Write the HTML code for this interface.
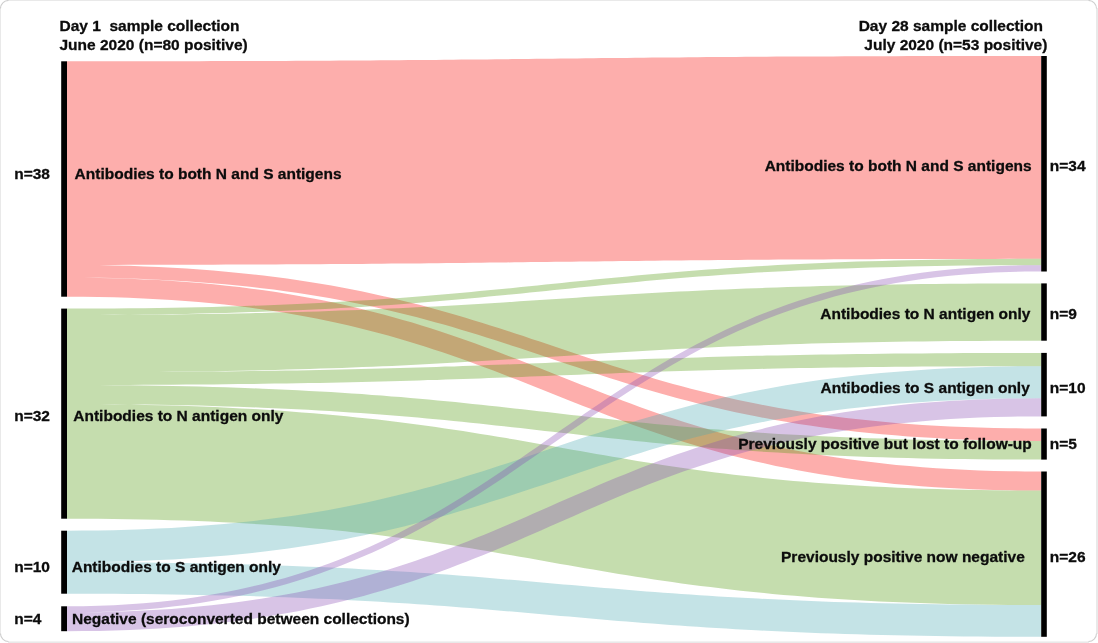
<!DOCTYPE html>
<html><head><meta charset="utf-8"><title>Sankey diagram</title>
<style>
html,body{margin:0;padding:0;background:#fff;}
body{width:1098px;height:643px;overflow:hidden;position:relative;}
svg{position:absolute;left:0;top:0;}
svg text{font-family:"Liberation Sans",sans-serif;font-weight:bold;font-size:15.5px;fill:#0c0c0c;stroke:#0c0c0c;stroke-width:0.3px;}
</style></head>
<body>
<svg width="1098" height="643" viewBox="0 0 1098 643">
<g fill="#e9e9e9">
<rect x="0" y="8" width="1" height="626"/>
<rect x="8" y="0" width="1081" height="1"/>
<rect x="1096" y="8" width="2" height="626"/>
<rect x="8" y="641.4" width="1081" height="1.6"/>
</g>
<g fill="none" stroke="#cfcfcf" stroke-width="1.1">
<path d="M0.5,8.5A8,8 0 0 1 8.5,0.5"/>
<path d="M1088.5,0.5A8,8 0 0 1 1096.5,8.5"/>
<path d="M1096.5,633.5A8,8 0 0 1 1088.5,641.5"/>
<path d="M8.5,641.5A8,8 0 0 1 0.5,633.5"/>
</g>
<g>
<path fill="rgb(250,12,6)" fill-opacity="0.333" d="M67.0,61.3L83.0,61.3L98.7,61.3L114.0,61.3L129.0,61.3L143.7,61.3L158.0,61.3L172.1,61.2L185.8,61.2L199.2,61.2L212.3,61.1L225.2,61.1L237.8,61.1L250.1,61.0L262.2,61.0L274.0,60.9L285.5,60.9L296.9,60.8L308.0,60.8L318.9,60.7L329.6,60.7L340.1,60.6L350.4,60.5L360.5,60.5L370.4,60.4L380.2,60.3L389.8,60.3L399.2,60.2L408.6,60.1L417.7,60.0L426.8,60.0L435.7,59.9L444.5,59.8L453.3,59.7L461.9,59.6L470.4,59.5L478.9,59.5L487.3,59.4L495.6,59.3L503.9,59.2L512.1,59.1L520.3,59.0L528.4,58.9L536.6,58.8L544.7,58.7L552.8,58.7L560.9,58.6L569.1,58.5L577.2,58.4L585.4,58.3L593.6,58.2L601.8,58.1L610.1,58.0L618.5,57.9L626.9,57.9L635.4,57.8L644.0,57.7L652.7,57.6L661.4,57.5L670.3,57.4L679.3,57.4L688.4,57.3L697.7,57.2L707.0,57.1L716.6,57.0L726.2,57.0L736.1,56.9L746.1,56.8L756.2,56.8L766.6,56.7L777.2,56.6L787.9,56.6L798.9,56.5L810.1,56.5L821.5,56.4L833.1,56.4L845.0,56.3L857.1,56.3L869.5,56.2L882.2,56.2L895.1,56.2L908.3,56.1L921.8,56.1L935.5,56.1L949.6,56.0L964.0,56.0L978.8,56.0L993.8,56.0L1009.2,56.0L1024.9,56.0L1041.0,56.0L1041.0,258.8L1025.0,258.8L1009.3,258.8L994.0,258.9L979.0,258.9L964.3,258.9L950.0,258.9L935.9,259.0L922.2,259.0L908.8,259.0L895.7,259.1L882.8,259.1L870.2,259.2L857.9,259.2L845.8,259.3L834.0,259.3L822.5,259.4L811.1,259.4L800.0,259.5L789.1,259.6L778.4,259.6L767.9,259.7L757.6,259.8L747.5,259.8L737.6,259.9L727.8,260.0L718.2,260.1L708.7,260.2L699.4,260.2L690.3,260.3L681.2,260.4L672.3,260.5L663.5,260.6L654.7,260.7L646.1,260.8L637.6,260.9L629.1,261.0L620.7,261.1L612.4,261.2L604.1,261.3L595.9,261.4L587.7,261.5L579.6,261.6L571.4,261.7L563.3,261.8L555.2,261.8L547.1,261.9L538.9,262.0L530.8,262.1L522.6,262.2L514.4,262.3L506.2,262.4L497.9,262.5L489.5,262.6L481.1,262.7L472.6,262.8L464.0,262.9L455.3,263.0L446.6,263.1L437.7,263.2L428.7,263.3L419.6,263.4L410.3,263.5L401.0,263.5L391.4,263.6L381.8,263.7L371.9,263.8L361.9,263.9L351.8,263.9L341.4,264.0L330.8,264.1L320.1,264.2L309.1,264.2L297.9,264.3L286.5,264.3L274.9,264.4L263.0,264.5L250.9,264.5L238.5,264.6L225.8,264.6L212.9,264.7L199.7,264.7L186.2,264.7L172.5,264.8L158.4,264.8L144.0,264.8L129.2,264.8L114.2,264.9L98.8,264.9L83.1,264.9L67.0,264.9ZM67.0,264.9L83.1,265.0L98.9,265.1L114.3,265.4L129.3,265.8L144.1,266.4L158.5,267.0L172.6,267.7L186.4,268.6L199.9,269.5L213.2,270.5L226.1,271.7L238.8,272.9L251.2,274.2L263.3,275.6L275.2,277.1L286.9,278.6L298.3,280.3L309.5,282.0L320.5,283.8L331.3,285.6L341.9,287.6L352.3,289.6L362.5,291.6L372.5,293.7L382.4,295.9L392.1,298.1L401.6,300.4L411.0,302.7L420.3,305.1L429.4,307.5L438.4,310.0L447.3,312.5L456.1,315.0L464.7,317.6L473.3,320.2L481.8,322.8L490.3,325.4L498.6,328.1L507.0,330.7L515.2,333.4L523.4,336.1L531.6,338.9L539.8,341.6L547.9,344.3L556.0,347.0L564.1,349.7L572.2,352.5L580.4,355.2L588.5,357.9L596.7,360.6L604.9,363.3L613.2,365.9L621.5,368.6L629.9,371.2L638.3,373.8L646.9,376.3L655.5,378.9L664.2,381.4L673.0,383.9L681.9,386.3L690.9,388.7L700.1,391.0L709.4,393.3L718.8,395.6L728.4,397.8L738.1,399.9L748.1,402.0L758.1,404.1L768.4,406.0L778.9,407.9L789.5,409.8L800.4,411.5L811.5,413.2L822.8,414.9L834.4,416.4L846.2,417.9L858.2,419.3L870.5,420.6L883.0,421.8L895.9,422.9L909.0,423.9L922.4,424.9L936.1,425.7L950.1,426.4L964.4,427.0L979.1,427.6L994.0,428.0L1009.3,428.3L1025.0,428.4L1041.0,428.5L1041.0,440.9L1024.9,440.9L1009.1,440.7L993.7,440.4L978.7,440.0L963.9,439.5L949.5,438.9L935.4,438.1L921.6,437.3L908.1,436.4L894.9,435.3L881.9,434.2L869.2,433.0L856.8,431.7L844.7,430.3L832.8,428.8L821.1,427.2L809.7,425.6L798.5,423.9L787.5,422.1L776.7,420.2L766.1,418.3L755.7,416.3L745.5,414.3L735.5,412.2L725.6,410.0L716.0,407.8L706.4,405.5L697.0,403.2L687.8,400.8L678.6,398.4L669.6,395.9L660.7,393.5L652.0,390.9L643.3,388.4L634.7,385.8L626.2,383.2L617.7,380.5L609.4,377.9L601.1,375.2L592.8,372.5L584.6,369.8L576.4,367.1L568.3,364.4L560.1,361.7L552.0,358.9L543.9,356.2L535.8,353.5L527.6,350.8L519.5,348.1L511.3,345.4L503.1,342.7L494.8,340.1L486.5,337.4L478.1,334.8L469.7,332.2L461.1,329.7L452.5,327.1L443.8,324.6L435.0,322.2L426.1,319.7L417.1,317.3L407.9,315.0L398.6,312.7L389.2,310.5L379.6,308.3L369.8,306.1L359.9,304.0L349.8,302.0L339.6,300.0L329.1,298.1L318.4,296.3L307.6,294.5L296.5,292.8L285.2,291.2L273.6,289.6L261.8,288.2L249.8,286.8L237.5,285.5L224.9,284.3L212.1,283.2L199.0,282.2L185.6,281.2L171.9,280.4L157.9,279.7L143.6,279.1L128.9,278.5L114.0,278.1L98.7,277.8L83.0,277.7L67.0,277.6ZM67.0,277.6L83.1,277.7L98.9,277.9L114.4,278.2L129.5,278.7L144.3,279.4L158.7,280.1L172.9,281.0L186.7,282.0L200.3,283.1L213.6,284.3L226.6,285.7L239.3,287.1L251.7,288.7L263.9,290.3L275.9,292.1L287.6,293.9L299.1,295.9L310.3,297.9L321.3,300.1L332.2,302.3L342.8,304.6L353.2,307.0L363.5,309.4L373.5,311.9L383.4,314.5L393.2,317.2L402.8,319.9L412.2,322.6L421.5,325.5L430.6,328.3L439.7,331.3L448.6,334.2L457.4,337.2L466.1,340.3L474.7,343.3L483.3,346.4L491.7,349.6L500.1,352.7L508.4,355.9L516.7,359.1L524.9,362.3L533.1,365.5L541.3,368.8L549.4,372.0L557.5,375.2L565.6,378.5L573.8,381.7L581.9,384.9L590.0,388.1L598.2,391.3L606.4,394.5L614.7,397.6L623.0,400.7L631.3,403.8L639.7,406.9L648.2,409.9L656.8,412.9L665.5,415.9L674.3,418.8L683.2,421.7L692.2,424.5L701.3,427.3L710.5,430.0L719.9,432.7L729.5,435.3L739.2,437.8L749.1,440.3L759.1,442.7L769.3,445.0L779.8,447.2L790.4,449.4L801.2,451.5L812.2,453.5L823.5,455.4L835.0,457.2L846.8,459.0L858.7,460.6L871.0,462.1L883.5,463.6L896.3,464.9L909.4,466.1L922.7,467.2L936.4,468.2L950.3,469.0L964.6,469.8L979.2,470.4L994.1,470.9L1009.4,471.2L1025.0,471.4L1041.0,471.5L1041.0,490.6L1024.9,490.5L1009.1,490.3L993.6,489.9L978.5,489.5L963.7,488.8L949.3,488.1L935.1,487.2L921.3,486.2L907.7,485.1L894.4,483.9L881.4,482.5L868.7,481.1L856.3,479.5L844.1,477.9L832.1,476.1L820.4,474.2L808.9,472.3L797.7,470.2L786.7,468.1L775.8,465.9L765.2,463.6L754.8,461.2L744.5,458.8L734.5,456.3L724.6,453.7L714.8,451.0L705.2,448.3L695.8,445.6L686.5,442.7L677.4,439.9L668.3,436.9L659.4,434.0L650.6,431.0L641.9,427.9L633.3,424.9L624.7,421.7L616.3,418.6L607.9,415.5L599.6,412.3L591.3,409.1L583.1,405.9L574.9,402.7L566.7,399.4L558.6,396.2L550.5,393.0L542.4,389.7L534.2,386.5L526.1,383.3L518.0,380.1L509.8,376.9L501.6,373.7L493.3,370.6L485.0,367.5L476.7,364.4L468.3,361.3L459.8,358.3L451.2,355.3L442.5,352.3L433.7,349.4L424.8,346.5L415.8,343.7L406.7,340.9L397.5,338.2L388.1,335.5L378.5,332.9L368.8,330.4L358.9,327.9L348.9,325.5L338.7,323.2L328.2,321.0L317.6,318.8L306.8,316.7L295.8,314.7L284.5,312.8L273.0,311.0L261.2,309.2L249.2,307.6L237.0,306.1L224.5,304.6L211.7,303.3L198.6,302.1L185.3,301.0L171.6,300.0L157.7,299.2L143.4,298.4L128.8,297.8L113.9,297.3L98.6,297.0L83.0,296.8L67.0,296.7Z"/>
<path fill="rgb(81,153,12)" fill-opacity="0.333" d="M67.0,308.6L83.0,308.6L98.7,308.5L114.1,308.4L129.1,308.3L143.8,308.2L158.1,308.0L172.2,307.7L185.9,307.5L199.4,307.2L212.6,306.9L225.4,306.6L238.0,306.2L250.4,305.8L262.5,305.4L274.3,304.9L285.9,304.4L297.3,303.9L308.4,303.4L319.3,302.9L330.0,302.3L340.5,301.7L350.9,301.1L361.0,300.5L371.0,299.9L380.8,299.2L390.4,298.5L399.9,297.9L409.2,297.2L418.4,296.4L427.5,295.7L436.4,295.0L445.3,294.2L454.0,293.4L462.7,292.7L471.2,291.9L479.7,291.1L488.1,290.3L496.4,289.5L504.7,288.7L512.9,287.9L521.1,287.0L529.3,286.2L537.4,285.4L545.6,284.6L553.7,283.7L561.8,282.9L569.9,282.1L578.1,281.2L586.2,280.4L594.4,279.6L602.7,278.8L611.0,278.0L619.3,277.2L627.7,276.4L636.2,275.6L644.8,274.8L653.4,274.0L662.2,273.2L671.0,272.5L680.0,271.7L689.1,271.0L698.3,270.3L707.7,269.6L717.2,268.9L726.8,268.2L736.6,267.6L746.6,266.9L756.7,266.3L767.1,265.7L777.6,265.1L788.4,264.5L799.3,264.0L810.5,263.5L821.8,263.0L833.4,262.5L845.3,262.1L857.4,261.6L869.8,261.2L882.4,260.9L895.3,260.5L908.5,260.2L921.9,259.9L935.7,259.7L949.8,259.5L964.1,259.3L978.8,259.1L993.9,259.0L1009.2,258.9L1024.9,258.8L1041.0,258.8L1041.0,265.2L1025.0,265.2L1009.3,265.2L993.9,265.3L978.9,265.4L964.2,265.6L949.9,265.8L935.8,266.0L922.1,266.3L908.6,266.6L895.4,266.9L882.6,267.2L870.0,267.6L857.6,268.0L845.5,268.4L833.7,268.8L822.1,269.3L810.7,269.8L799.6,270.3L788.7,270.9L778.0,271.4L767.5,272.0L757.1,272.6L747.0,273.3L737.0,273.9L727.2,274.5L717.6,275.2L708.1,275.9L698.8,276.6L689.6,277.3L680.5,278.1L671.6,278.8L662.7,279.6L654.0,280.3L645.3,281.1L636.8,281.9L628.3,282.7L619.9,283.5L611.6,284.3L603.3,285.1L595.1,285.9L586.9,286.7L578.7,287.6L570.6,288.4L562.4,289.2L554.3,290.0L546.2,290.9L538.1,291.7L529.9,292.5L521.8,293.4L513.6,294.2L505.3,295.0L497.0,295.8L488.7,296.6L480.3,297.4L471.8,298.2L463.2,299.0L454.6,299.8L445.8,300.5L437.0,301.3L428.0,302.0L418.9,302.8L409.7,303.5L400.3,304.2L390.8,304.9L381.2,305.6L371.4,306.2L361.4,306.9L351.3,307.5L340.9,308.1L330.4,308.7L319.6,309.2L308.7,309.8L297.5,310.3L286.2,310.8L274.6,311.3L262.7,311.7L250.6,312.1L238.2,312.5L225.6,312.9L212.7,313.3L199.5,313.6L186.1,313.9L172.3,314.1L158.2,314.3L143.9,314.5L129.2,314.7L114.1,314.8L98.8,314.9L83.1,314.9L67.0,315.0ZM67.0,315.0L83.0,315.0L98.7,314.9L114.0,314.9L129.0,314.8L143.6,314.7L157.9,314.6L171.9,314.4L185.6,314.3L199.1,314.1L212.2,313.9L225.0,313.7L237.6,313.4L249.9,313.2L261.9,312.9L273.7,312.6L285.3,312.3L296.6,312.0L307.7,311.7L318.6,311.4L329.2,311.0L339.7,310.6L350.0,310.3L360.1,309.9L370.0,309.5L379.7,309.0L389.3,308.6L398.8,308.2L408.1,307.7L417.2,307.3L426.3,306.8L435.2,306.4L444.0,305.9L452.7,305.4L461.3,304.9L469.8,304.4L478.3,303.9L486.6,303.4L495.0,302.9L503.2,302.4L511.4,301.9L519.6,301.3L527.8,300.8L535.9,300.3L544.0,299.8L552.1,299.2L560.3,298.7L568.4,298.2L576.5,297.7L584.7,297.1L592.9,296.6L601.2,296.1L609.5,295.6L617.9,295.1L626.3,294.6L634.8,294.1L643.4,293.6L652.1,293.1L660.9,292.6L669.8,292.1L678.8,291.6L687.9,291.2L697.2,290.7L706.5,290.2L716.1,289.8L725.8,289.4L735.6,289.0L745.7,288.6L755.9,288.2L766.2,287.8L776.8,287.4L787.6,287.0L798.6,286.7L809.8,286.4L821.2,286.0L832.9,285.7L844.8,285.5L856.9,285.2L869.3,284.9L882.0,284.7L894.9,284.5L908.1,284.3L921.6,284.1L935.4,283.9L949.5,283.8L964.0,283.7L978.7,283.6L993.8,283.5L1009.2,283.4L1024.9,283.4L1041.0,283.4L1041.0,340.7L1025.0,340.7L1009.3,340.7L994.0,340.8L979.0,340.9L964.4,341.0L950.1,341.1L936.1,341.2L922.4,341.4L908.9,341.6L895.8,341.8L883.0,342.0L870.4,342.2L858.1,342.5L846.1,342.7L834.3,343.0L822.7,343.3L811.4,343.6L800.3,344.0L789.4,344.3L778.8,344.7L768.3,345.0L758.0,345.4L747.9,345.8L738.0,346.2L728.3,346.6L718.7,347.1L709.2,347.5L699.9,347.9L690.8,348.4L681.7,348.8L672.8,349.3L664.0,349.8L655.3,350.3L646.7,350.8L638.2,351.3L629.7,351.8L621.4,352.3L613.0,352.8L604.8,353.3L596.6,353.8L588.4,354.3L580.2,354.8L572.1,355.4L564.0,355.9L555.9,356.4L547.7,356.9L539.6,357.5L531.5,358.0L523.3,358.5L515.1,359.0L506.8,359.6L498.5,360.1L490.1,360.6L481.7,361.1L473.2,361.6L464.6,362.1L455.9,362.6L447.1,363.1L438.2,363.6L429.2,364.0L420.1,364.5L410.8,365.0L401.5,365.4L391.9,365.9L382.2,366.3L372.4,366.7L362.3,367.1L352.1,367.5L341.8,367.9L331.2,368.3L320.4,368.6L309.4,369.0L298.2,369.3L286.8,369.6L275.1,369.9L263.2,370.2L251.1,370.5L238.7,370.7L226.0,371.0L213.1,371.2L199.9,371.4L186.4,371.6L172.6,371.7L158.5,371.9L144.0,372.0L129.3,372.1L114.2,372.2L98.8,372.2L83.1,372.3L67.0,372.3ZM67.0,372.3L83.0,372.3L98.7,372.2L114.1,372.2L129.1,372.1L143.8,372.1L158.2,372.0L172.2,371.9L186.0,371.8L199.4,371.7L212.6,371.6L225.5,371.4L238.1,371.3L250.4,371.1L262.5,371.0L274.3,370.8L285.9,370.6L297.3,370.4L308.4,370.2L319.4,370.0L330.1,369.8L340.6,369.6L350.9,369.3L361.1,369.1L371.0,368.8L380.8,368.6L390.4,368.3L399.9,368.1L409.3,367.8L418.5,367.5L427.5,367.2L436.5,366.9L445.3,366.6L454.1,366.4L462.7,366.1L471.3,365.7L479.7,365.4L488.1,365.1L496.5,364.8L504.8,364.5L513.0,364.2L521.2,363.9L529.4,363.6L537.5,363.2L545.6,362.9L553.7,362.6L561.9,362.3L570.0,361.9L578.1,361.6L586.3,361.3L594.5,361.0L602.7,360.7L611.0,360.4L619.4,360.0L627.8,359.7L636.3,359.4L644.8,359.1L653.5,358.8L662.2,358.5L671.1,358.2L680.1,357.9L689.1,357.7L698.4,357.4L707.7,357.1L717.2,356.8L726.8,356.6L736.7,356.3L746.6,356.1L756.8,355.8L767.1,355.6L777.7,355.4L788.4,355.2L799.3,354.9L810.5,354.7L821.9,354.5L833.5,354.4L845.3,354.2L857.4,354.0L869.8,353.9L882.4,353.7L895.3,353.6L908.5,353.5L921.9,353.4L935.7,353.3L949.8,353.2L964.1,353.1L978.8,353.0L993.9,353.0L1009.2,352.9L1024.9,352.9L1041.0,352.9L1041.0,366.2L1025.0,366.2L1009.3,366.2L993.9,366.3L978.9,366.3L964.2,366.4L949.8,366.4L935.8,366.5L922.0,366.6L908.6,366.7L895.4,366.8L882.6,367.0L869.9,367.1L857.6,367.2L845.5,367.4L833.7,367.6L822.1,367.7L810.7,367.9L799.6,368.1L788.6,368.3L777.9,368.5L767.4,368.8L757.1,369.0L747.0,369.2L737.0,369.5L727.2,369.7L717.6,370.0L708.1,370.2L698.7,370.5L689.5,370.8L680.5,371.0L671.5,371.3L662.7,371.6L653.9,371.9L645.3,372.2L636.7,372.5L628.3,372.8L619.9,373.1L611.5,373.4L603.2,373.7L595.0,374.0L586.8,374.3L578.6,374.7L570.5,375.0L562.4,375.3L554.3,375.6L546.1,375.9L538.0,376.2L529.9,376.5L521.7,376.9L513.5,377.2L505.3,377.5L497.0,377.8L488.6,378.1L480.2,378.4L471.7,378.7L463.2,379.0L454.5,379.3L445.8,379.6L436.9,379.9L427.9,380.1L418.9,380.4L409.6,380.7L400.3,381.0L390.8,381.2L381.1,381.5L371.3,381.7L361.4,382.0L351.2,382.2L340.9,382.4L330.3,382.7L319.6,382.9L308.7,383.1L297.5,383.3L286.1,383.5L274.5,383.6L262.7,383.8L250.6,384.0L238.2,384.1L225.6,384.2L212.7,384.4L199.5,384.5L186.1,384.6L172.3,384.7L158.2,384.8L143.9,384.8L129.2,384.9L114.1,384.9L98.8,385.0L83.1,385.0L67.0,385.0ZM67.0,385.0L83.1,385.0L98.8,385.1L114.2,385.2L129.2,385.3L144.0,385.5L158.4,385.7L172.4,386.0L186.2,386.3L199.7,386.6L212.9,386.9L225.8,387.3L238.5,387.7L250.8,388.2L263.0,388.7L274.8,389.2L286.5,389.7L297.9,390.3L309.1,390.9L320.0,391.5L330.8,392.1L341.3,392.8L351.7,393.4L361.9,394.1L371.9,394.9L381.7,395.6L391.4,396.4L400.9,397.1L410.3,397.9L419.5,398.7L428.6,399.6L437.6,400.4L446.5,401.2L455.2,402.1L463.9,403.0L472.5,403.9L481.0,404.8L489.4,405.7L497.7,406.6L506.0,407.5L514.3,408.4L522.5,409.3L530.7,410.2L538.8,411.2L547.0,412.1L555.1,413.0L563.2,414.0L571.3,414.9L579.4,415.8L587.6,416.7L595.8,417.7L604.0,418.6L612.3,419.5L620.6,420.4L629.0,421.3L637.5,422.2L646.0,423.1L654.6,423.9L663.4,424.8L672.2,425.6L681.1,426.5L690.2,427.3L699.4,428.1L708.7,428.9L718.1,429.6L727.7,430.4L737.5,431.1L747.5,431.8L757.6,432.5L767.9,433.2L778.4,433.9L789.1,434.5L800.0,435.1L811.1,435.7L822.4,436.3L834.0,436.8L845.8,437.3L857.9,437.8L870.2,438.2L882.8,438.6L895.6,439.0L908.8,439.4L922.2,439.7L935.9,440.0L950.0,440.2L964.3,440.4L979.0,440.6L994.0,440.8L1009.3,440.9L1025.0,440.9L1041.0,440.9L1041.0,459.6L1024.9,459.6L1009.2,459.5L993.8,459.4L978.8,459.3L964.1,459.1L949.7,458.9L935.6,458.7L921.8,458.4L908.3,458.1L895.1,457.7L882.2,457.3L869.5,456.9L857.2,456.5L845.0,456.0L833.2,455.5L821.5,455.0L810.1,454.4L798.9,453.8L788.0,453.2L777.2,452.6L766.7,451.9L756.3,451.3L746.1,450.6L736.1,449.9L726.3,449.1L716.6,448.4L707.1,447.6L697.7,446.8L688.5,446.0L679.4,445.2L670.4,444.4L661.5,443.5L652.8,442.7L644.1,441.8L635.5,440.9L627.0,440.0L618.6,439.1L610.3,438.2L602.0,437.3L593.7,436.4L585.5,435.5L577.3,434.6L569.2,433.6L561.0,432.7L552.9,431.8L544.8,430.9L536.7,429.9L528.5,429.0L520.4,428.1L512.2,427.2L504.0,426.3L495.7,425.4L487.4,424.5L479.0,423.6L470.5,422.7L462.0,421.8L453.4,421.0L444.6,420.1L435.8,419.3L426.9,418.4L417.8,417.6L408.6,416.8L399.3,416.0L389.9,415.3L380.3,414.5L370.5,413.8L360.5,413.1L350.4,412.4L340.1,411.7L329.6,411.1L318.9,410.4L308.0,409.8L296.9,409.3L285.6,408.7L274.0,408.2L262.2,407.7L250.1,407.2L237.8,406.8L225.2,406.4L212.4,406.0L199.2,405.6L185.8,405.3L172.1,405.0L158.0,404.8L143.7,404.6L129.0,404.4L114.0,404.3L98.7,404.2L83.0,404.1L67.0,404.1ZM67.0,404.1L83.3,404.1L99.2,404.2L114.8,404.4L130.1,404.6L145.0,404.9L159.6,405.2L174.0,405.6L188.0,406.1L201.7,406.6L215.1,407.1L228.3,407.7L241.2,408.4L253.8,409.1L266.2,409.8L278.3,410.6L290.2,411.5L301.9,412.4L313.3,413.3L324.5,414.3L335.6,415.3L346.4,416.3L357.0,417.4L367.4,418.5L377.7,419.6L387.7,420.8L397.7,422.0L407.4,423.3L417.0,424.5L426.5,425.8L435.8,427.1L445.0,428.4L454.0,429.8L463.0,431.1L471.8,432.5L480.6,433.9L489.2,435.3L497.8,436.7L506.3,438.1L514.7,439.6L523.0,441.0L531.3,442.4L539.5,443.9L547.7,445.3L555.9,446.8L564.0,448.2L572.1,449.7L580.2,451.1L588.3,452.5L596.4,453.9L604.5,455.3L612.6,456.8L620.8,458.1L629.0,459.5L637.3,460.9L645.6,462.2L654.0,463.6L662.4,464.9L670.9,466.2L679.6,467.5L688.3,468.7L697.1,470.0L706.1,471.2L715.2,472.4L724.4,473.5L733.8,474.7L743.3,475.8L753.0,476.8L762.9,477.9L772.9,478.9L783.1,479.9L793.6,480.9L804.2,481.8L815.1,482.7L826.2,483.5L837.5,484.3L849.0,485.1L860.8,485.8L872.9,486.4L885.3,487.1L897.9,487.7L910.8,488.2L924.0,488.7L937.4,489.1L951.2,489.5L965.4,489.8L979.8,490.1L994.6,490.3L1009.7,490.4L1025.2,490.5L1041.0,490.6L1041.0,605.0L1024.7,605.0L1008.8,604.9L993.2,604.7L977.9,604.5L963.0,604.2L948.4,603.9L934.0,603.5L920.0,603.1L906.3,602.6L892.9,602.0L879.7,601.4L866.8,600.7L854.2,600.0L841.8,599.3L829.7,598.5L817.8,597.7L806.1,596.8L794.7,595.8L783.5,594.9L772.5,593.9L761.6,592.8L751.0,591.8L740.6,590.7L730.3,589.5L720.3,588.3L710.4,587.1L700.6,585.9L691.0,584.7L681.5,583.4L672.2,582.1L663.0,580.7L654.0,579.4L645.0,578.0L636.2,576.7L627.4,575.3L618.8,573.9L610.2,572.5L601.7,571.0L593.3,569.6L585.0,568.2L576.7,566.7L568.5,565.3L560.3,563.9L552.1,562.4L544.0,561.0L535.9,559.5L527.8,558.1L519.7,556.7L511.6,555.3L503.5,553.9L495.3,552.5L487.2,551.1L479.0,549.7L470.7,548.3L462.4,547.0L454.0,545.6L445.6,544.3L437.0,543.0L428.4,541.8L419.7,540.5L410.9,539.3L401.9,538.1L392.8,536.9L383.6,535.7L374.2,534.6L364.7,533.5L355.0,532.4L345.1,531.3L335.1,530.3L324.9,529.3L314.4,528.4L303.8,527.5L292.9,526.6L281.8,525.8L270.5,525.0L259.0,524.2L247.2,523.5L235.1,522.8L222.7,522.2L210.1,521.6L197.2,521.1L184.0,520.6L170.6,520.2L156.8,519.8L142.6,519.5L128.2,519.2L113.4,519.0L98.3,518.8L82.8,518.7L67.0,518.7Z"/>
<path fill="rgb(78,171,180)" fill-opacity="0.333" d="M67.0,530.7L82.9,530.6L98.5,530.5L113.7,530.2L128.6,529.8L143.2,529.2L157.4,528.6L171.4,527.9L185.0,527.0L198.3,526.1L211.3,525.1L224.1,524.0L236.5,522.8L248.7,521.5L260.7,520.1L272.4,518.6L283.9,517.1L295.1,515.5L306.1,513.8L316.9,512.0L327.4,510.2L337.8,508.3L348.0,506.3L358.0,504.3L367.8,502.2L377.5,500.0L387.0,497.8L396.4,495.6L405.6,493.3L414.7,491.0L423.6,488.6L432.5,486.2L441.2,483.7L449.8,481.2L458.4,478.7L466.9,476.1L475.3,473.5L483.6,470.9L491.9,468.2L500.1,465.6L508.3,462.9L516.4,460.2L524.6,457.5L532.7,454.8L540.8,452.0L548.9,449.3L557.0,446.5L565.2,443.8L573.3,441.1L581.5,438.3L589.8,435.6L598.1,432.9L606.4,430.2L614.8,427.5L623.3,424.8L631.8,422.2L640.5,419.6L649.2,417.0L658.1,414.4L667.0,411.9L676.1,409.4L685.3,407.0L694.6,404.6L704.1,402.2L713.7,399.9L723.5,397.6L733.4,395.4L743.6,393.3L753.8,391.2L764.3,389.2L775.0,387.2L785.9,385.3L796.9,383.5L808.2,381.8L819.8,380.1L831.5,378.5L843.5,377.0L855.8,375.6L868.3,374.3L881.0,373.1L894.0,371.9L907.4,370.9L921.0,369.9L934.8,369.1L949.0,368.3L963.5,367.7L978.4,367.2L993.5,366.7L1009.0,366.4L1024.8,366.3L1041.0,366.2L1041.0,398.3L1025.1,398.4L1009.5,398.5L994.3,398.8L979.4,399.2L964.8,399.7L950.6,400.4L936.7,401.1L923.0,401.9L909.7,402.8L896.7,403.8L883.9,405.0L871.5,406.2L859.3,407.4L847.3,408.8L835.6,410.3L824.2,411.8L813.0,413.4L802.0,415.1L791.2,416.9L780.6,418.7L770.2,420.6L760.0,422.6L750.0,424.6L740.2,426.7L730.5,428.8L721.0,431.0L711.7,433.2L702.5,435.5L693.4,437.8L684.4,440.2L675.6,442.6L666.8,445.1L658.2,447.6L649.6,450.1L641.2,452.7L632.8,455.3L624.4,457.9L616.1,460.5L607.9,463.2L599.7,465.8L591.6,468.5L583.4,471.2L575.3,474.0L567.2,476.7L559.1,479.4L551.0,482.2L542.8,484.9L534.7,487.6L526.5,490.3L518.2,493.1L509.9,495.8L501.6,498.5L493.2,501.1L484.7,503.8L476.1,506.4L467.5,509.1L458.7,511.6L449.9,514.2L440.9,516.7L431.9,519.2L422.7,521.6L413.3,524.0L403.9,526.4L394.2,528.7L384.5,530.9L374.5,533.1L364.4,535.3L354.1,537.3L343.7,539.4L333.0,541.3L322.1,543.2L311.0,545.0L299.7,546.7L288.2,548.4L276.5,550.0L264.5,551.5L252.2,552.9L239.7,554.2L227.0,555.4L213.9,556.5L200.6,557.6L187.0,558.5L173.1,559.4L159.0,560.1L144.4,560.7L129.6,561.3L114.5,561.7L99.0,562.0L83.2,562.1L67.0,562.2ZM67.0,562.2L83.1,562.2L98.8,562.3L114.2,562.3L129.3,562.4L144.0,562.6L158.4,562.7L172.5,562.9L186.3,563.1L199.8,563.4L213.0,563.7L225.9,564.0L238.6,564.3L250.9,564.6L263.1,565.0L275.0,565.4L286.6,565.8L298.0,566.2L309.2,566.7L320.2,567.1L330.9,567.6L341.5,568.1L351.9,568.6L362.1,569.2L372.1,569.7L381.9,570.3L391.6,570.9L401.1,571.5L410.5,572.1L419.7,572.7L428.9,573.3L437.8,574.0L446.7,574.6L455.5,575.3L464.2,576.0L472.8,576.6L481.3,577.3L489.7,578.0L498.0,578.7L506.4,579.4L514.6,580.1L522.8,580.8L531.0,581.5L539.1,582.2L547.3,583.0L555.4,583.7L563.5,584.4L571.6,585.1L579.8,585.8L587.9,586.5L596.1,587.2L604.3,587.9L612.6,588.6L620.9,589.3L629.3,590.0L637.8,590.7L646.3,591.4L654.9,592.0L663.6,592.7L672.4,593.3L681.4,594.0L690.4,594.6L699.6,595.2L708.9,595.8L718.4,596.4L728.0,597.0L737.7,597.5L747.7,598.1L757.8,598.6L768.0,599.1L778.5,599.6L789.2,600.1L800.1,600.6L811.2,601.0L822.5,601.5L834.1,601.9L845.9,602.2L858.0,602.6L870.3,602.9L882.9,603.3L895.7,603.6L908.8,603.8L922.3,604.1L936.0,604.3L950.0,604.5L964.3,604.6L979.0,604.8L994.0,604.9L1009.3,605.0L1025.0,605.0L1041.0,605.0L1041.0,636.8L1024.9,636.8L1009.2,636.7L993.8,636.7L978.7,636.5L964.0,636.4L949.6,636.2L935.5,636.0L921.7,635.8L908.2,635.6L895.0,635.3L882.1,635.0L869.4,634.7L857.1,634.3L844.9,634.0L833.0,633.6L821.4,633.2L810.0,632.7L798.8,632.3L787.8,631.8L777.1,631.3L766.5,630.8L756.1,630.3L745.9,629.8L735.9,629.2L726.1,628.6L716.4,628.0L706.9,627.4L697.5,626.8L688.3,626.2L679.1,625.6L670.2,624.9L661.3,624.3L652.5,623.6L643.8,622.9L635.2,622.3L626.7,621.6L618.3,620.9L609.9,620.2L601.6,619.5L593.4,618.8L585.2,618.1L577.0,617.3L568.9,616.6L560.7,615.9L552.6,615.2L544.5,614.5L536.4,613.8L528.2,613.0L520.1,612.3L511.9,611.6L503.7,610.9L495.4,610.2L487.1,609.5L478.7,608.8L470.2,608.1L461.7,607.5L453.1,606.8L444.4,606.1L435.6,605.5L426.6,604.8L417.6,604.2L408.4,603.6L399.1,603.0L389.6,602.4L380.0,601.8L370.3,601.2L360.4,600.7L350.2,600.2L340.0,599.6L329.5,599.1L318.8,598.7L307.9,598.2L296.8,597.7L285.5,597.3L273.9,596.9L262.1,596.5L250.0,596.1L237.7,595.8L225.1,595.5L212.3,595.2L199.2,594.9L185.7,594.7L172.0,594.4L158.0,594.3L143.7,594.1L129.0,594.0L114.0,593.8L98.7,593.8L83.0,593.7L67.0,593.7Z"/>
<path fill="rgb(138,78,180)" fill-opacity="0.333" d="M67.0,606.3L83.0,606.2L98.7,605.8L114.0,605.2L128.9,604.3L143.6,603.3L157.9,602.0L171.9,600.4L185.6,598.7L199.0,596.8L212.1,594.6L224.9,592.3L237.5,589.8L249.8,587.1L261.8,584.2L273.6,581.1L285.2,577.9L296.5,574.5L307.6,571.0L318.5,567.3L329.1,563.4L339.6,559.5L349.9,555.3L360.0,551.1L369.9,546.7L379.6,542.2L389.2,537.7L398.7,532.9L408.0,528.1L417.2,523.2L426.2,518.3L435.1,513.2L444.0,508.0L452.7,502.8L461.3,497.5L469.8,492.1L478.3,486.7L486.7,481.2L495.0,475.7L503.3,470.2L511.5,464.6L519.7,459.0L527.8,453.3L536.0,447.7L544.1,442.0L552.2,436.3L560.3,430.6L568.4,424.9L576.6,419.3L584.8,413.6L593.0,408.0L601.2,402.4L609.5,396.8L617.9,391.2L626.3,385.7L634.8,380.3L643.4,374.9L652.1,369.6L660.8,364.3L669.7,359.1L678.7,354.0L687.8,349.0L697.1,344.0L706.5,339.2L716.0,334.4L725.7,329.8L735.5,325.3L745.5,320.9L755.7,316.6L766.1,312.4L776.7,308.4L787.5,304.5L798.5,300.8L809.7,297.2L821.1,293.8L832.8,290.5L844.7,287.5L856.8,284.5L869.2,281.8L881.9,279.3L894.8,276.9L908.1,274.8L921.6,272.8L935.4,271.1L949.5,269.5L963.9,268.2L978.7,267.1L993.7,266.3L1009.1,265.7L1024.9,265.3L1041.0,265.2L1041.0,271.5L1025.0,271.6L1009.3,272.0L994.0,272.6L979.1,273.5L964.4,274.5L950.1,275.8L936.1,277.3L922.4,279.1L909.0,281.0L895.9,283.1L883.1,285.5L870.5,288.0L858.2,290.7L846.2,293.6L834.4,296.6L822.8,299.9L811.5,303.3L800.4,306.8L789.6,310.5L778.9,314.3L768.4,318.3L758.1,322.4L748.0,326.7L738.1,331.0L728.4,335.5L718.8,340.1L709.3,344.8L700.0,349.6L690.8,354.5L681.8,359.5L672.9,364.6L664.1,369.7L655.3,375.0L646.7,380.3L638.2,385.6L629.7,391.0L621.3,396.5L613.0,402.0L604.7,407.6L596.5,413.2L588.3,418.8L580.2,424.4L572.0,430.1L563.9,435.8L555.8,441.4L547.7,447.1L539.6,452.8L531.4,458.5L523.2,464.1L515.0,469.8L506.8,475.4L498.5,481.0L490.1,486.5L481.7,492.0L473.2,497.4L464.6,502.8L455.9,508.1L447.1,513.4L438.3,518.6L429.3,523.7L420.2,528.7L410.9,533.7L401.5,538.5L392.0,543.3L382.3,547.9L372.5,552.4L362.4,556.8L352.2,561.1L341.9,565.3L331.3,569.3L320.5,573.2L309.5,576.9L298.3,580.5L286.9,583.9L275.2,587.2L263.3,590.2L251.2,593.2L238.8,595.9L226.1,598.4L213.2,600.8L199.9,602.9L186.4,604.9L172.6,606.6L158.5,608.2L144.1,609.5L129.3,610.6L114.3,611.4L98.9,612.0L83.1,612.4L67.0,612.5ZM67.0,612.5L83.0,612.4L98.6,612.2L113.8,611.8L128.8,611.3L143.3,610.6L157.6,609.8L171.6,608.9L185.2,607.8L198.6,606.6L211.6,605.3L224.4,603.8L236.9,602.2L249.2,600.5L261.1,598.7L272.9,596.8L284.4,594.8L295.6,592.7L306.7,590.5L317.5,588.2L328.1,585.8L338.5,583.3L348.7,580.7L358.8,578.1L368.7,575.3L378.4,572.5L387.9,569.7L397.3,566.7L406.6,563.7L415.7,560.7L424.7,557.5L433.6,554.4L442.3,551.1L451.0,547.9L459.6,544.6L468.1,541.2L476.5,537.8L484.9,534.4L493.2,530.9L501.4,527.5L509.6,523.9L517.8,520.4L525.9,516.9L534.1,513.3L542.2,509.8L550.3,506.2L558.4,502.6L566.6,499.0L574.7,495.5L582.9,491.9L591.1,488.4L599.4,484.8L607.7,481.3L616.1,477.8L624.6,474.4L633.1,470.9L641.7,467.5L650.4,464.2L659.3,460.8L668.2,457.6L677.2,454.3L686.4,451.2L695.7,448.0L705.1,445.0L714.7,442.0L724.4,439.1L734.3,436.2L744.4,433.4L754.7,430.7L765.1,428.1L775.7,425.5L786.6,423.1L797.6,420.7L808.9,418.5L820.3,416.3L832.1,414.3L844.0,412.3L856.2,410.5L868.7,408.8L881.4,407.2L894.4,405.7L907.7,404.3L921.2,403.1L935.1,402.0L949.2,401.0L963.7,400.2L978.5,399.5L993.6,399.0L1009.1,398.6L1024.9,398.4L1041.0,398.3L1041.0,416.4L1025.0,416.5L1009.4,416.7L994.2,417.1L979.2,417.6L964.6,418.3L950.4,419.1L936.4,420.1L922.8,421.2L909.4,422.4L896.3,423.7L883.6,425.2L871.1,426.8L858.8,428.5L846.8,430.3L835.1,432.2L823.6,434.2L812.3,436.4L801.3,438.6L790.5,440.9L779.9,443.3L769.4,445.8L759.2,448.4L749.2,451.0L739.3,453.8L729.6,456.6L720.1,459.4L710.7,462.4L701.4,465.4L692.3,468.5L683.3,471.6L674.4,474.8L665.6,478.0L657.0,481.3L648.4,484.6L639.9,488.0L631.5,491.3L623.1,494.8L614.8,498.2L606.6,501.7L598.4,505.2L590.2,508.8L582.1,512.3L573.9,515.9L565.8,519.4L557.7,523.0L549.6,526.6L541.5,530.2L533.3,533.8L525.1,537.3L516.9,540.9L508.6,544.4L500.3,547.9L491.9,551.4L483.4,554.9L474.9,558.3L466.3,561.7L457.6,565.1L448.8,568.4L439.9,571.7L430.8,575.0L421.6,578.1L412.4,581.3L402.9,584.3L393.3,587.3L383.6,590.3L373.7,593.1L363.6,595.9L353.4,598.6L342.9,601.3L332.3,603.8L321.5,606.3L310.4,608.6L299.2,610.9L287.7,613.1L276.0,615.1L264.0,617.1L251.8,618.9L239.4,620.7L226.6,622.3L213.6,623.8L200.4,625.1L186.8,626.4L172.9,627.5L158.8,628.4L144.3,629.3L129.5,629.9L114.4,630.5L98.9,630.9L83.1,631.1L67.0,631.2Z"/>
</g>
<g fill="#000">
<rect x="61.2" y="61.3" width="5.8" height="235.4"/>
<rect x="61.2" y="308.6" width="5.8" height="210.1"/>
<rect x="61.2" y="530.7" width="5.8" height="63.0"/>
<rect x="61.2" y="606.3" width="5.8" height="24.9"/>
<rect x="1041.2" y="56.0" width="5.6" height="215.5"/>
<rect x="1041.2" y="283.4" width="5.6" height="57.3"/>
<rect x="1041.2" y="352.9" width="5.6" height="63.5"/>
<rect x="1041.2" y="428.5" width="5.6" height="31.1"/>
<rect x="1041.2" y="471.5" width="5.6" height="165.3"/>
</g>
<g style="filter:grayscale(1)">
<text x="59.5" y="31.1">Day 1&#160; sample collection</text>
<text x="59.5" y="49.6">June 2020 (n=80 positive)</text>
<text x="1043" y="31.1" text-anchor="end">Day 28 sample collection</text>
<text x="1047.4" y="49.6" text-anchor="end">July 2020 (n=53 positive)</text>
<text x="14.2" y="179">n=38</text>
<text x="74.6" y="179">Antibodies to both N and S antigens</text>
<text x="14.2" y="421.3">n=32</text>
<text x="73.3" y="421.3">Antibodies to N antigen only</text>
<text x="14.2" y="571.6">n=10</text>
<text x="71.7" y="571.6">Antibodies to S antigen only</text>
<text x="14.2" y="624">n=4</text>
<text x="72" y="624">Negative (seroconverted between collections)</text>
<text x="1031.6" y="171.1" text-anchor="end">Antibodies to both N and S antigens</text>
<text x="1049.8" y="171.1">n=34</text>
<text x="1030.4" y="318.9" text-anchor="end">Antibodies to N antigen only</text>
<text x="1049.8" y="318.9">n=9</text>
<text x="1029.8" y="392.6" text-anchor="end">Antibodies to S antigen only</text>
<text x="1049.8" y="392.6">n=10</text>
<text x="1031.8" y="448.6" text-anchor="end">Previously positive but lost to follow-up</text>
<text x="1049.8" y="448.6">n=5</text>
<text x="1024.8" y="562.2" text-anchor="end">Previously positive now negative</text>
<text x="1049.8" y="562.2">n=26</text>
</g>
</svg>
</body></html>
